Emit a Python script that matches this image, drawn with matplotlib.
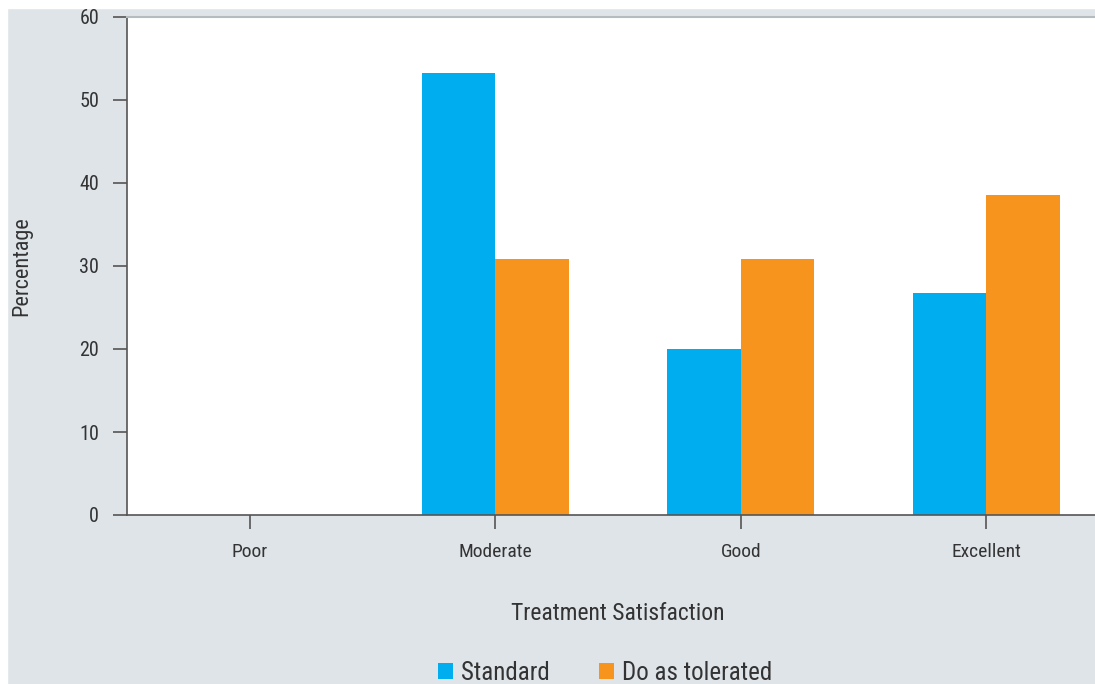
import matplotlib
import matplotlib.pyplot as plt
import numpy as np

categories = ["Poor", "Moderate", "Good", "Excellent"]
standard = [0, 53.3, 20.0, 26.7]
tolerated = [0, 30.8, 30.8, 38.5]
series_names = ["Standard", "Do as tolerated"]

matplotlib.rc('font', family=['Roboto Condensed', 'Liberation Sans', 'DejaVu Sans'])

bg = "#dfe4e8"
fig = plt.figure(figsize=(10.95, 6.84), dpi=100, facecolor=bg)
# white margin strips along the top and left edges
fig.patches.append(plt.Rectangle((0, 0), 7 / 1095, 1, transform=fig.transFigure,
                                 color="white", zorder=-1))
fig.patches.append(plt.Rectangle((0, 1 - 8 / 684), 1, 8 / 684, transform=fig.transFigure,
                                 color="white", zorder=-1))

ax = fig.add_axes([127 / 1095, 1 - 515 / 684, 982 / 1095, 498 / 684])
ax.set_facecolor("white")

x = np.arange(len(categories))
w = 0.3
ax.bar(x - w / 2, standard, width=w, color="#00aeef", label=series_names[0])
ax.bar(x + w / 2, tolerated, width=w, color="#f7941d", label=series_names[1])

ax.set_xlim(-0.5, 3.5)
ax.set_ylim(0, 60)
ax.set_yticks(range(0, 61, 10))
ax.set_xticks(x, categories)

ax.spines['right'].set_visible(False)
ax.spines['top'].set_color("#b4bcc0")
ax.spines['top'].set_linewidth(1.5)
for s in ['left', 'bottom']:
    ax.spines[s].set_color("#555555")
    ax.spines[s].set_linewidth(1.2)
ax.tick_params(axis='both', colors="#555555", labelcolor="#333333",
               length=10, width=1.2, labelsize=14, pad=10)
ax.tick_params(axis='y', pad=10, labelsize=14.5)

ax.set_xlabel("Treatment Satisfaction", fontsize=17, color="#333333", labelpad=30)
ax.set_ylabel("Percentage", fontsize=16, color="#333333", labelpad=34)

fig.legend(loc='center', bbox_to_anchor=(605 / 1095, 1 - 673 / 684), ncol=2,
           frameon=False, fontsize=18, handlelength=0.6, handleheight=0.6,
           columnspacing=2.0, handletextpad=0.3, labelcolor="#333333")

plt.savefig("out.png", dpi=100, facecolor=bg)
